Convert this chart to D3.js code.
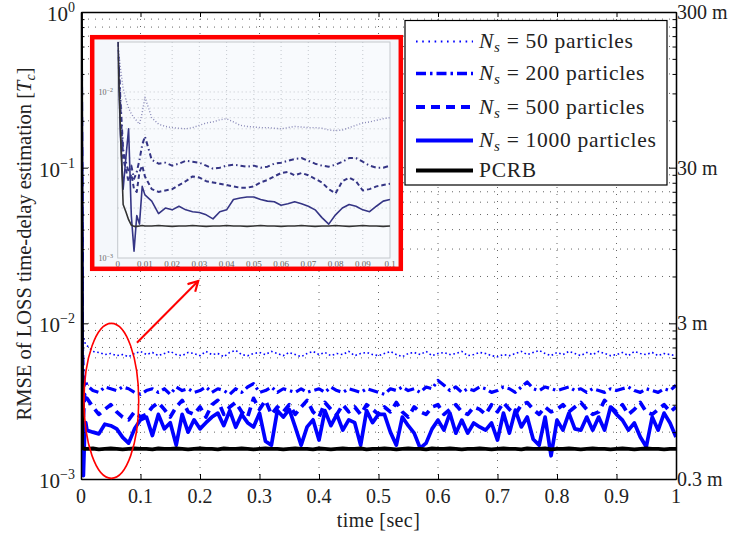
<!DOCTYPE html>
<html>
<head>
<meta charset="utf-8">
<script src="https://cdn.jsdelivr.net/npm/d3@7"></script>
<style>
  body { margin: 0; background: #fff; }
  svg text { font-family: 'Liberation Serif', 'DejaVu Serif', serif; fill: #222; }
</style>
</head>
<body>
<svg id="chart" width="733" height="538" font-family="Liberation Serif, DejaVu Serif, serif"></svg>
<script>
'use strict'
// ---------- data (RMSE values in units of 1e-3 Tc) ----------
const unit = 1e-3;
// first instants of the transient, then one sample per 10 ms
const mainT = [0, 0.002, 0.004, 0.006, 0.008].concat(d3.range(1, 101).map(i => i / 100));

const ns50 = [900, 9.5, 8.2, 7.6, 7.3,
  7.2, 6.6, 6.5, 6.3, 6.4, 6.2, 6.3, 6.1, 6.4, 6.6,
  6.3, 6.5, 6.2, 6.4, 6.6, 6.3, 6.2, 6.5, 6.4, 6.2,
  6.6, 6.3, 6.4, 6.1, 6.5, 6.7, 6.3, 6.2, 6.4, 6.5,
  6.3, 6.6, 6.4, 6.2, 6.5, 6.3, 6.1, 6.4, 6.6, 6.3,
  6.5, 6.2, 6.4, 6.3, 6.6, 6.2, 6.4, 6.5, 6.3, 6.2,
  6.4, 6.6, 6.3, 6.1, 6.4, 6.5, 6.3, 6.6, 6.2, 6.4,
  6.5, 6.3, 6.4, 6.6, 6.2, 6.3, 6.5, 6.4, 6.2, 6.1,
  6.3, 6.2, 6.4, 6.6, 6.3, 6.5, 6.7, 6.4, 6.2, 6.5,
  6.3, 6.6, 6.4, 6.2, 6.5, 6.3, 6.6, 6.4, 6.2, 6.3,
  6.5, 6.2, 6.6, 6.4, 6.3, 6.5, 6.2, 6.4, 6.3, 6.2];

const ns200 = [800, 8.0, 4.5, 4.0, 4.2,
  4.0, 3.7, 3.6, 3.9, 3.8, 3.7, 3.9, 3.8, 3.6, 3.5,
  3.7, 3.8, 3.6, 3.8, 3.5, 3.9, 3.7, 3.8, 3.6, 3.7,
  3.9, 3.6, 3.8, 3.7, 3.5, 3.8, 3.6, 3.9, 4.1, 3.6,
  3.7, 3.9, 3.6, 3.8, 3.7, 3.6, 3.8, 3.6, 3.7, 3.8,
  3.6, 3.9, 3.7, 3.6, 3.8, 3.7, 3.6, 3.8, 3.7, 3.6,
  3.5, 3.8, 3.7, 3.9, 3.7, 3.8, 3.6, 3.9, 3.8, 4.3,
  4.0, 3.7, 3.9, 3.6, 3.8, 3.7, 3.9, 3.8, 3.6, 3.7,
  3.9, 3.8, 3.6, 3.9, 4.2, 3.8, 3.7, 3.9, 3.8, 3.7,
  3.8, 3.9, 3.7, 3.8, 3.6, 3.8, 3.7, 3.6, 3.8, 3.7,
  3.8, 3.9, 3.7, 3.6, 3.8, 3.7, 3.6, 3.8, 3.7, 4.0];

const ns500 = [800, 6.0, 2.5, 3.5, 3.2,
  3.3, 2.9, 2.6, 2.8, 3.0, 2.7, 2.5, 2.4, 2.7, 2.5,
  2.6, 2.9, 3.1, 2.8, 2.5, 2.9, 3.2, 2.7, 2.6, 2.9,
  2.5, 3.0, 3.2, 2.6, 2.9, 3.1, 2.7, 2.5, 3.3, 2.8,
  3.2, 2.6, 2.9, 2.7, 3.0, 2.6, 2.9, 3.2, 2.7, 2.5,
  3.1, 2.8, 2.6, 3.0, 2.7, 2.9, 2.6, 3.0, 2.8, 2.6,
  2.9, 2.7, 3.1, 2.7, 2.5, 2.9, 2.7, 2.6, 2.9, 3.0,
  2.6, 2.8, 3.0, 2.7, 2.6, 2.9, 2.8, 2.6, 3.0, 2.7,
  3.1, 2.8, 2.6, 3.0, 3.1, 2.8, 2.6, 2.9, 2.7, 2.8,
  3.0, 2.7, 2.9, 3.1, 2.8, 2.6, 2.7, 3.2, 2.9, 2.7,
  3.0, 2.6, 2.8, 3.1, 2.7, 2.6, 2.8, 3.0, 2.7, 2.9];

const ns1000 = [500, 3.0, 1.05, 1.9, 2.3,
  2.06, 2.00, 1.95, 2.25, 2.20, 2.10, 1.85, 1.70, 2.10, 2.40,
  2.50, 1.90, 2.60, 2.10, 2.30, 1.65, 2.60, 2.00, 2.40, 2.10,
  2.30, 2.50, 2.65, 2.20, 2.75, 2.15, 2.60, 2.30, 2.16, 2.65,
  1.75, 1.65, 2.75, 2.50, 2.80, 2.16, 1.65, 2.16, 2.40, 1.78,
  2.75, 2.20, 2.60, 2.06, 2.40, 2.30, 1.65, 2.75, 2.30, 2.60,
  2.60, 2.00, 1.65, 2.50, 2.20, 1.97, 1.58, 1.70, 2.10, 2.39,
  2.06, 2.65, 1.97, 2.39, 1.97, 2.29, 2.16, 2.06, 2.29, 1.78,
  2.65, 1.97, 2.77, 2.16, 2.50, 1.80, 1.65, 2.50, 1.41, 2.39,
  2.06, 2.65, 2.10, 2.06, 2.50, 2.06, 2.50, 2.06, 2.90, 2.60,
  2.39, 2.06, 2.29, 1.86, 1.61, 2.50, 2.06, 2.65, 2.29, 1.86];

const pcrb = [1000, 1.62, 1.57, 1.56, 1.56,
  1.56, 1.57, 1.55, 1.56, 1.57, 1.56, 1.55, 1.56, 1.57, 1.56,
  1.56, 1.55, 1.57, 1.56, 1.56, 1.57, 1.56, 1.55, 1.56, 1.57,
  1.56, 1.56, 1.55, 1.57, 1.56, 1.56, 1.57, 1.56, 1.55, 1.56,
  1.57, 1.56, 1.56, 1.55, 1.56, 1.57, 1.56, 1.56, 1.55, 1.57,
  1.56, 1.55, 1.56, 1.57, 1.56, 1.56, 1.57, 1.55, 1.56, 1.56,
  1.57, 1.56, 1.55, 1.56, 1.57, 1.56, 1.56, 1.55, 1.57, 1.56,
  1.56, 1.57, 1.56, 1.55, 1.56, 1.56, 1.57, 1.56, 1.55, 1.56,
  1.57, 1.56, 1.56, 1.55, 1.57, 1.56, 1.56, 1.57, 1.55, 1.56,
  1.56, 1.57, 1.56, 1.55, 1.56, 1.57, 1.56, 1.56, 1.55, 1.56,
  1.57, 1.56, 1.55, 1.56, 1.57, 1.56, 1.56, 1.55, 1.56, 1.56];

// inset (zoom of the first 0.1 s)
const insetT = [0, .001, .002, .003, .004, .005, .006, .007, .008, .009, .010,
  .0125, .015, .0175, .020, .0225, .025, .0275, .030, .0325, .035, .0375, .040,
  .0425, .045, .0475, .050, .0525, .055, .0575, .060, .0625, .065, .0675, .070,
  .0725, .075, .0775, .080, .0825, .085, .0875, .090, .0925, .095, .0975, .100];
const inset50 = [20, 14, 10.5, 9.0, 8.0, 7.4, 7.0, 6.7, 6.4, 7.5, 9.3,
  7.0, 6.4, 6.2, 6.1, 6.05, 6.0, 6.1, 6.3, 6.5, 6.6,
  6.8, 6.9, 6.6, 6.3, 6.2, 6.15, 6.1, 6.1, 6.05, 6.0,
  6.1, 6.2, 6.15, 6.1, 6.1, 6.05, 5.9, 5.85, 5.9, 6.1,
  6.3, 6.5, 6.6, 6.75, 6.9, 7.0];
const inset200 = [20, 9, 4.5, 3.8, 3.3, 3.6, 3.0, 3.3, 3.9, 4.8, 5.4,
  3.9, 3.7, 3.75, 3.6, 3.7, 3.85, 3.8, 3.75, 3.6, 3.45,
  3.5, 3.6, 3.65, 3.6, 3.55, 3.6, 3.5, 3.55, 3.7, 3.75,
  3.85, 3.95, 4.0, 3.85, 3.7, 3.6, 3.55, 3.65, 3.8, 4.0,
  4.0, 3.8, 3.6, 3.5, 3.5, 3.6];
const inset500 = [20, 8, 4.0, 3.4, 2.9, 3.2, 2.6, 2.5, 3.3, 3.6, 3.1,
  2.6, 2.5, 2.55, 2.6, 2.75, 2.9, 3.1, 3.05, 2.9, 2.85,
  2.8, 2.75, 2.7, 2.65, 2.65, 2.7, 2.85, 2.95, 3.1, 3.25,
  3.3, 3.15, 3.25, 3.15, 3.0, 2.85, 2.6, 2.45, 2.9, 3.05,
  2.9, 2.55, 2.6, 2.7, 2.75, 2.8];
const inset1000 = [20, 5.5, 2.6, 4.0, 6.0, 1.8, 1.1, 1.8, 1.6, 2.7, 2.4,
  2.2, 1.85, 2.0, 1.95, 2.05, 1.95, 1.9, 1.88, 1.82, 1.72,
  1.9, 1.95, 2.25, 2.3, 2.33, 2.33, 2.25, 2.2, 2.18, 2.08,
  2.12, 2.18, 2.12, 2.05, 1.95, 1.75, 1.6, 1.82, 2.0, 2.1,
  2.05, 1.95, 1.9, 2.05, 2.2, 2.25];
const insetPcrb = [20, 6, 2.1, 1.9, 1.7, 1.58, 1.55, 1.55, 1.56, 1.57, 1.56,
  1.56, 1.57, 1.56, 1.55, 1.56, 1.56, 1.57, 1.56, 1.55, 1.56,
  1.56, 1.57, 1.56, 1.56, 1.55, 1.56, 1.57, 1.56, 1.56, 1.55,
  1.56, 1.56, 1.57, 1.56, 1.55, 1.56, 1.56, 1.57, 1.56, 1.55,
  1.56, 1.57, 1.56, 1.56, 1.55, 1.56];

// ticks / labels
const xTicks = [0, 0.1, 0.2, 0.3, 0.4, 0.5, 0.6, 0.7, 0.8, 0.9, 1];
const xTickLabels = ['0', '0.1', '0.2', '0.3', '0.4', '0.5', '0.6', '0.7', '0.8', '0.9', '1'];
const yExp = [-3, -2, -1, 0];
const rightLabels = ['0.3 m', '3 m', '30 m', '300 m'];
const insetXTicks = [0, 0.01, 0.02, 0.03, 0.04, 0.05, 0.06, 0.07, 0.08, 0.09, 0.1];
const insetXLabels = ['0', '0.01', '0.02', '0.03', '0.04', '0.05', '0.06', '0.07', '0.08', '0.09', '0.1'];
const insetYExp = [-3, -2];
const legendNs = ['50', '200', '500', '1000'];
const legendLast = 'PCRB';
// annotation: ellipse bounds and arrow ends in data coordinates
const ellipseT = [0.005, 0.097], ellipseV = [1.01e-3, 1.0e-2];
const arrowFrom = [0.094, 7.5e-3], arrowTo = [0.197, 18.7e-3];

// ---------- layout ----------
const W = 733, H = 538;
const FONT = "'Liberation Serif', 'DejaVu Serif', serif";
const margin = {top: 12, right: 57, bottom: 59, left: 81};
const svg = d3.select('#chart');
const x = d3.scaleLinear().domain([0, 1]).range([margin.left, W - margin.right]);
const y = d3.scaleLog().domain([1e-3, 1]).range([H - margin.bottom, margin.top]);
const minor = [];
[-3, -2, -1].forEach(e => { for (let k = 2; k < 10; k++) minor.push(k * Math.pow(10, e)); });
const majors = yExp.map(e => Math.pow(10, e));

const defs = svg.append('defs');
defs.append('clipPath').attr('id', 'plotclip').append('rect')
  .attr('x', x(0)).attr('y', y(1)).attr('width', x(1) - x(0)).attr('height', y(1e-3) - y(1));
defs.append('marker').attr('id', 'arr').attr('viewBox', '0 0 12 12')
  .attr('refX', 10).attr('refY', 6).attr('markerWidth', 13).attr('markerHeight', 13)
  .attr('markerUnits', 'userSpaceOnUse').attr('orient', 'auto')
  .append('path').attr('d', 'M1,1 L10,6 L1,11').attr('fill', 'none')
  .attr('stroke', '#f00').attr('stroke-width', 2);

// grid
const grid = svg.append('g').attr('stroke', '#666').attr('stroke-width', 1).attr('stroke-dasharray', '1,6');
grid.selectAll('.gx').data(xTicks.slice(1, -1)).enter().append('line')
  .attr('x1', d => x(d)).attr('x2', d => x(d)).attr('y1', y(1)).attr('y2', y(1e-3));
grid.selectAll('.gy').data(minor.concat(majors.slice(1, -1))).enter().append('line')
  .attr('x1', x(0)).attr('x2', x(1)).attr('y1', d => y(d)).attr('y2', d => y(d));

// series
const series = [
  {vals: ns50, color: '#0000ff', width: 1.6, dash: '1.6,2.6'},
  {vals: ns200, color: '#0000ff', width: 3.2, dash: '10,4,2.5,4'},
  {vals: ns500, color: '#0000ff', width: 3.7, dash: '9,6'},
  {vals: ns1000, color: '#0000ff', width: 3.7, dash: null},
  {vals: pcrb, color: '#000', width: 3.8, dash: null}
];
const line = d3.line().x((d, i) => x(mainT[i])).y(d => y(d * unit));
const plot = svg.append('g').attr('clip-path', 'url(#plotclip)');
series.forEach(s => {
  plot.append('path').datum(s.vals).attr('d', line)
    .attr('fill', 'none').attr('stroke', s.color).attr('stroke-width', s.width)
    .attr('stroke-dasharray', s.dash).attr('stroke-linejoin', 'round');
});

// axes (ticks inside)
function axisG(axis, tx, ty) {
  const g = svg.append('g').attr('transform', 'translate(' + tx + ',' + ty + ')').call(axis);
  g.selectAll('text').remove();
  g.select('.domain').attr('stroke', '#000').attr('stroke-width', 1.3);
  g.selectAll('.tick line').attr('stroke', '#000').attr('stroke-width', 1);
  return g;
}
axisG(d3.axisBottom(x).tickValues(xTicks).tickSize(-5).tickSizeOuter(0), 0, y(1e-3));
axisG(d3.axisTop(x).tickValues(xTicks).tickSize(-5).tickSizeOuter(0), 0, y(1));
axisG(d3.axisLeft(y).tickValues(majors).tickSize(-7).tickSizeOuter(0), x(0), 0);
axisG(d3.axisLeft(y).tickValues(minor).tickSize(-3.5).tickSizeOuter(0), x(0), 0);
axisG(d3.axisRight(y).tickValues(majors).tickSize(-7).tickSizeOuter(0), x(1), 0);
axisG(d3.axisRight(y).tickValues(minor).tickSize(-3.5).tickSizeOuter(0), x(1), 0);

// tick labels
svg.selectAll('.xl').data(xTicks).enter().append('text')
  .attr('font-family', FONT)
  .attr('x', d => x(d)).attr('y', y(1e-3) + 24).attr('text-anchor', 'middle')
  .attr('font-size', 20).text((d, i) => xTickLabels[i]);
const yl = svg.selectAll('.yl').data(yExp).enter().append('text')
  .attr('font-family', FONT)
  .attr('x', x(0) - 6).attr('y', d => y(Math.pow(10, d)) + 9).attr('text-anchor', 'end')
  .attr('font-size', 21);
yl.append('tspan').text('10');
yl.append('tspan').attr('dy', -9).attr('font-size', 14).text(d => d === 0 ? '0' : '\u2212' + (-d));
svg.selectAll('.rl').data(yExp).enter().append('text')
  .attr('font-family', FONT)
  .attr('x', x(1) + 1).attr('y', d => y(Math.pow(10, d)) + 7)
  .attr('font-size', 20).text((d, i) => rightLabels[i]);

// axis titles
svg.append('text').attr('font-family', FONT)
  .attr('x', (x(0) + x(1)) / 2).attr('y', 527).attr('text-anchor', 'middle')
  .attr('font-size', 20).attr('letter-spacing', 0.4).text('time [sec]');
const ylab = svg.append('text').attr('font-family', FONT)
  .attr('transform', 'translate(31,' + 244 + ') rotate(-90)')
  .attr('text-anchor', 'middle').attr('font-size', 20.5);
ylab.append('tspan').text('RMSE of LOSS time-delay estimation [');
ylab.append('tspan').attr('font-style', 'italic').text('T');
ylab.append('tspan').attr('font-style', 'italic').attr('font-size', 14).attr('dy', 4).text('c');
ylab.append('tspan').attr('dy', -4).text(']');

// ---------- inset ----------
const ix = d3.scaleLinear().domain([0, 0.1]).range([117.7, 390]);
const iy = d3.scaleLog().domain([1e-3, 2e-2]).range([258, 42]);
const inset = svg.append('g');
inset.append('rect').attr('x', 92.2).attr('y', 37.2).attr('width', 308.6).attr('height', 231.6)
  .attr('fill', '#f4f7fb');
inset.append('rect').attr('x', ix(0)).attr('y', iy(2e-2)).attr('width', ix(0.1) - ix(0))
  .attr('height', iy(1e-3) - iy(2e-2)).attr('fill', '#f8fafd').attr('stroke', '#c4c8cc').attr('stroke-width', 1);
defs.append('clipPath').attr('id', 'insetclip').append('rect')
  .attr('x', ix(0)).attr('y', iy(2e-2)).attr('width', ix(0.1) - ix(0)).attr('height', iy(1e-3) - iy(2e-2));
const igrid = inset.append('g').attr('stroke', '#b8bcc4').attr('stroke-width', 0.8).attr('stroke-dasharray', '1,3');
igrid.selectAll('line.v').data(insetXTicks.slice(1, -1)).enter().append('line')
  .attr('x1', d => ix(d)).attr('x2', d => ix(d)).attr('y1', iy(2e-2)).attr('y2', iy(1e-3));
const iminor = [];
for (let k = 2; k < 10; k++) iminor.push(k * 1e-3);
igrid.selectAll('line.h').data(iminor.concat([1e-2])).enter().append('line')
  .attr('x1', ix(0)).attr('x2', ix(0.1)).attr('y1', d => iy(d)).attr('y2', d => iy(d));
const insetSeries = [
  {vals: inset50, color: '#8a8ab8', width: 1.4, dash: '1,2'},
  {vals: inset200, color: '#353585', width: 2, dash: '5,3,1.5,3'},
  {vals: inset500, color: '#353585', width: 2, dash: '4.5,3'},
  {vals: inset1000, color: '#353585', width: 1.6, dash: null},
  {vals: insetPcrb, color: '#333', width: 1.6, dash: null}
];
const iline = d3.line().x((d, i) => ix(insetT[i])).y(d => iy(d * unit));
const iplot = inset.append('g').attr('clip-path', 'url(#insetclip)');
insetSeries.forEach(s => {
  iplot.append('path').datum(s.vals).attr('d', iline)
    .attr('fill', 'none').attr('stroke', s.color).attr('stroke-width', s.width)
    .attr('stroke-dasharray', s.dash).attr('stroke-linejoin', 'round');
});
inset.selectAll('.ixl').data(insetXTicks).enter().append('text')
  .attr('font-family', FONT)
  .attr('x', d => ix(d)).attr('y', 267).attr('text-anchor', 'middle')
  .attr('font-size', 9).style('fill', '#666').text((d, i) => insetXLabels[i]);
const iyl = inset.selectAll('.iyl').data(insetYExp).enter().append('text')
  .attr('font-family', FONT)
  .attr('x', 113).attr('y', d => iy(Math.pow(10, d)) + 3).attr('text-anchor', 'end')
  .attr('font-size', 8).style('fill', '#666');
iyl.append('tspan').text('10');
iyl.append('tspan').attr('dy', -3).attr('font-size', 6).text(d => '\u2212' + (-d));
inset.append('rect').attr('x', 92.2).attr('y', 37.2).attr('width', 308.6).attr('height', 231.6)
  .attr('fill', 'none').attr('stroke', '#f00').attr('stroke-width', 4.5);

// ---------- annotations ----------
svg.append('ellipse')
  .attr('cx', (x(ellipseT[0]) + x(ellipseT[1])) / 2).attr('cy', (y(ellipseV[0]) + y(ellipseV[1])) / 2)
  .attr('rx', (x(ellipseT[1]) - x(ellipseT[0])) / 2).attr('ry', (y(ellipseV[0]) - y(ellipseV[1])) / 2)
  .attr('fill', 'none').attr('stroke', '#f00').attr('stroke-width', 1.6);
svg.append('line')
  .attr('x1', x(arrowFrom[0])).attr('y1', y(arrowFrom[1]))
  .attr('x2', x(arrowTo[0])).attr('y2', y(arrowTo[1]))
  .attr('stroke', '#f00').attr('stroke-width', 2).attr('marker-end', 'url(#arr)');

// ---------- legend ----------
const leg = svg.append('g').attr('transform', 'translate(405,20.5)');
leg.append('rect').attr('width', 262).attr('height', 164.5).attr('fill', '#fff')
  .attr('stroke', '#000').attr('stroke-width', 1.2);
const rowY = [21, 53, 86.5, 120, 150];
series.forEach((s, i) => {
  leg.append('line').attr('x1', 11).attr('x2', 68).attr('y1', rowY[i]).attr('y2', rowY[i])
    .attr('stroke', s.color).attr('stroke-width', i === 0 ? 2 : s.width + 0.3)
    .attr('stroke-dasharray', i === 0 ? '1.6,4.6' : s.dash);
  const t = leg.append('text').attr('font-family', FONT).attr('letter-spacing', 0.7)
    .attr('x', 74).attr('y', rowY[i] + 6.5).attr('font-size', 21.5);
  if (i < legendNs.length) {
    t.append('tspan').attr('font-style', 'italic').text('N');
    t.append('tspan').attr('font-style', 'italic').attr('font-size', 15).attr('dy', 4).text('s');
    t.append('tspan').attr('dy', -4).text(' = ' + legendNs[i] + ' particles');
  } else {
    t.text(legendLast);
  }
});
</script>
</body>
</html>
